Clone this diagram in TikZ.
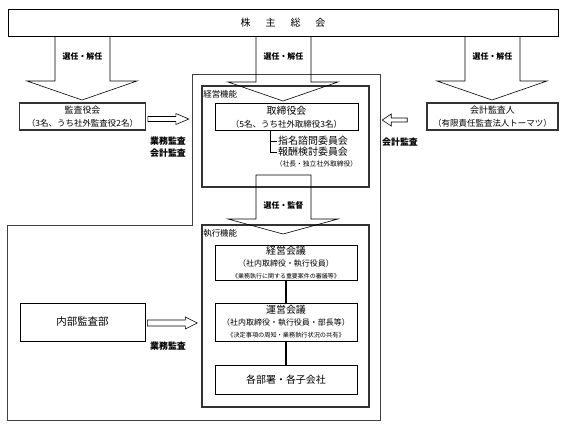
\documentclass[tikz,border=0pt]{standalone}
\usepackage{fontspec}
\setmainfont{Noto Sans CJK JP}
\usetikzlibrary{positioning}

\newcommand{\fsz}[1]{\fontsize{#1}{#1}\selectfont}
\tikzset{
  box/.style={draw, line width=0.6pt, align=center, inner sep=0pt},
  auditbox/.style={box, draw=black!80, line width=1.6pt},
  heavybox/.style={draw=black!80, line width=1.8pt, inner sep=0pt},
  blockarrow/.style={draw, line width=0.6pt, line join=miter},
  lbl/.style={font=\bfseries\fsz{8}},
  auditlbl/.style={font=\bfseries\fsz{9}},
  txt/.style={inner sep=1bp}
}

\begin{document}
\begin{tikzpicture}[x=1bp,y=-1bp]
  \def\Ytop{36};
  \def\Ybase{81};
  \def\Ytip{100};
  \useasboundingbox (0,0) rectangle (567,427);

  \node[box, minimum width=550bp, minimum height=27bp, font=\fsz{10}] (soukai) at (283,22.5)
        {株\hspace{15bp}主\hspace{15bp}総\hspace{15bp}会};

        % outer frame
        \draw[black!75, line width=0.8pt] (192,74) -- (380,74) -- (380,420) -- (7,420) -- (7,225) -- (192,225) -- cycle;

  \node[heavybox, minimum width=167bp, minimum height=101bp] (keiei) at (285.5,136.5) {};
  \node[heavybox, minimum width=167bp, minimum height=182bp] (shikkou) at (285.5,316) {};
  \node[txt, font=\fsz{8.5}, anchor=north west, below right=4bp and 1bp of keiei.north west] (keieilbl) {経営機能};
  \node[txt, font=\fsz{8.5}, anchor=north west, below right=4bp and 1bp of shikkou.north west] (shikkoulbl) {執行機能};

  \node[auditbox, minimum width=126bp, minimum height=27bp] (kansayaku) at (82.5,116.5)
        {\fsz{9}監査役会\\[1.5bp]\fsz{8.5}（3名、うち社外監査役2名）};
  \node[auditbox, minimum width=131bp, minimum height=27bp] (kaikei) at (492.5,116.5)
        {\fsz{9}会計監査人\\[1.5bp]\fsz{8.5}（有限責任監査法人トーマツ）};
  \node[box, minimum width=143bp, minimum height=27bp] (torishimari) at (286.5,117)
        {\fsz{10}取締役会\\[1bp]\fsz{8.5}（5名、うち社外取締役3名）};

        \coordinate (brk) at (270,130);
  \node[txt, anchor=west, font=\fsz{10}] (shimei) at (277,141) {指名諮問委員会};
  \node[txt, anchor=west, font=\fsz{10}] (houshu) at (277,152) {報酬検討委員会};
  \node[txt, font=\fsz{6.8}] (shachou) at (316.5,163.5) {（社長・独立社外取締役）};
	\draw (brk) |- (houshu.west);
	\draw (brk |- shimei.west) -- (shimei.west);

  \node[box, minimum width=142bp, minimum height=35bp] (keieikaigi) at (286,262.5)
        {\fsz{10}経営会議\\\fsz{8}（社内取締役・執行役員）\\\fsz{6}《業務執行に関する重要案件の審議等》};
  \node[box, minimum width=142bp, minimum height=38bp] (uneikaigi) at (286,322)
        {\fsz{10}運営会議\\\fsz{8}（社内取締役・執行役員・部長等）\\\fsz{6.2}《決定事項の周知・業務執行状況の共有》};
  \node[box, minimum width=142bp, minimum height=29bp, font=\fsz{10}] (kakubusho) at (286,379.5) {各部署・各子会社};
  \node[box, minimum width=125bp, minimum height=38bp, font=\fsz{10.5}] (naibu) at (82.5,322) {内部監査部};

	\draw[line width=2pt] (keieikaigi) -- (uneikaigi);
	\draw[line width=2pt] (uneikaigi) -- (kakubusho);

        % block arrows
	\draw[blockarrow] (55,\Ytop) -- (55,\Ybase) -- (27,\Ybase) -- (82,\Ytip) -- (137,\Ybase) -- (110,\Ybase) -- (110,\Ytop);
	\draw[blockarrow] (256,\Ytop) -- (256,82) -- (228,82) -- (283,101) -- (338,82) -- (311,82) -- (311,\Ytop);
	\draw[blockarrow] (465,\Ytop) -- (465,\Ybase) -- (437,\Ybase) -- (492,\Ytip) -- (547,\Ybase) -- (520,\Ybase) -- (520,\Ytop);
	\draw[blockarrow] (256,175) -- (256,219) -- (228,219) -- (283,234) -- (338,219) -- (311,219) -- (311,175) -- cycle;
        \node[lbl] (sen1) at (82.5,56) {選任・解任};
        \node[lbl] (sen2) at (283.5,56) {選任・解任};
        \node[lbl] (sen3) at (492.5,56) {選任・解任};
        \node[lbl] (kantoku) at (283.5,205) {選任・監督};

	\draw[blockarrow] (kansayaku.east) ++(1.5,0) -- ++(28,0) -- ++(0,-3) -- ++(13,5.5) -- ++(-13,5.5) -- ++(0,-3) -- ++(-28,0) -- cycle;
	\draw[blockarrow] (kaikei.west) ++(-19,1.5) -- ++(-16,0) -- ++(0,-4) -- ++(-9,6) -- ++(9,6) -- ++(0,-4) -- ++(16,0) -- cycle;
	\draw[blockarrow] (naibu.east) ++(2,-2) -- ++(38,0) -- ++(0,-3) -- ++(12,6) -- ++(-12,6) -- ++(0,-3) -- ++(-38,0) -- cycle;
        \node[auditlbl] (gyoumu1) at (168,141) {業務監査};
        \node[auditlbl] (kaikei1) at (168,153) {会計監査};
        \node[auditlbl] (kaikei2) at (400,142) {会計監査};
        \node[auditlbl] (gyoumu2) at (168,346) {業務監査};
\end{tikzpicture}
\end{document}
